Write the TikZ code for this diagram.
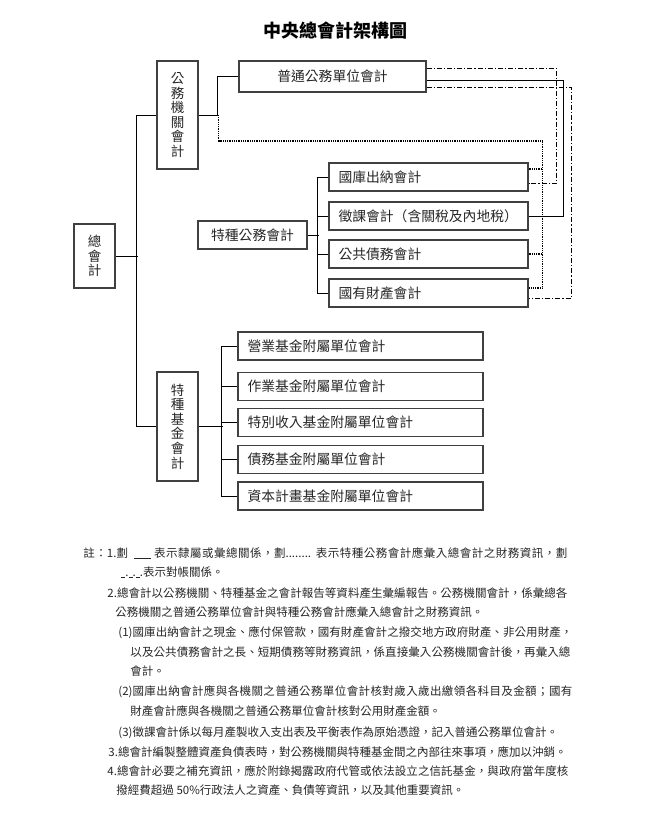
\documentclass[tikz,border=0pt]{standalone}
\usepackage{fontspec}
\setmainfont{Noto Sans CJK TC}
% stretchable glue between Han characters, for the full note lines
\newXeTeXintercharclass\hanclass
\count255="3000
\loop
	\XeTeXcharclass\count255=\hanclass
	\advance\count255 by 1
\ifnum\count255<"A000 \repeat
\count255="FF00
\loop
	\XeTeXcharclass\count255=\hanclass
	\advance\count255 by 1
\ifnum\count255<"FF60 \repeat
\XeTeXinterchartoks\hanclass\hanclass={\nobreak\hskip0pt plus 1.5pt\relax}
\XeTeXinterchartokenstate=1
\newcommand\jline[2]{\hbox to #1pt{#2}}
\newcommand\solidmark{\rule[-1.5pt]{17pt}{0.7pt}}
\newcommand\dashmark{\rule[-1.5pt]{4pt}{0.5pt}.\rule[-1.5pt]{4pt}{0.5pt}.\rule[-1.5pt]{4pt}{0.5pt}.}

\begin{document}
\begin{tikzpicture}[x=1pt, y=-1pt, line width=0.9pt]
	\tikzstyle{vbox} = [draw=black!75, line width=1.2pt, text=black!85, font=\fontsize{13.5}{14.6}\selectfont, align=center, minimum width=41, inner sep=0pt]
	\tikzstyle{hbox} = [draw=black!75, line width=1.2pt, text=black!85, font=\fontsize{13.8}{16}\selectfont, minimum height=28, inner sep=0pt]
	\tikzstyle{unit} = [hbox, align=left, inner xsep=9.5pt]
	\tikzstyle{feed} = [line width=1.2pt, dash pattern=on 0.9pt off 0.9pt]
	\tikzstyle{recon} = [line width=1pt, dash pattern=on 5pt off 2pt on 1.2pt off 2pt]
	\tikzstyle{note} = [anchor=west, inner sep=0pt, text=black!85, font=\fontsize{11.5}{14}\selectfont]

	\useasboundingbox (0,0) rectangle (656,828);

	\node[font=\fontsize{18}{20}\selectfont\bfseries] (title) at (335,31) {中央總會計架構圖};

	\node[vbox, minimum height=64] (zkj) at (94.5,256) {總\\會\\計};
	\node[vbox, minimum height=108] (gwjg) at (177.5,115) {公\\務\\機\\關\\會\\計};
	\node[vbox, minimum height=109] (tzjj) at (177.5,426.5) {特\\種\\基\\金\\會\\計};
	\node[hbox, minimum width=187, minimum height=31] (ptgw) at (332.5,76.5) {普通公務單位會計};
	\node[hbox, minimum width=109] (tzgw) at (252.5,235) {特種公務會計};

	\foreach \name/\y/\label in {gkcn/177/國庫出納會計, zk/216/{徵課會計（含關稅及內地稅）}, ggzw/254/公共債務會計, gycc/293/國有財產會計}
		\node[unit, text width=180] (\name) at (428.5,\y) {\label};

	\foreach \name/\y/\label in {yy/346/營業基金附屬單位會計, zy/386.5/作業基金附屬單位會計, tb/422.5/特別收入基金附屬單位會計, zw/459.5/債務基金附屬單位會計, zb/496/資本計畫基金附屬單位會計}
		\node[unit, text width=226] (\name) at (360.5,\y) {\label};

	% solid: tree
	\draw (gwjg.west) -- ++(-20,0) |- (tzjj.west);
	\draw (zkj.east) -- ++(22,0);
	\draw (ptgw.west) -- ++(-21,0) |- (gwjg.east);
	\draw (tzgw.east) -- ++(11,0);
	\draw (gkcn.west) -- ++(-11,0) |- (gycc.west);
	\foreach \name in {zk, ggzw}
		\draw (\name.west) -- ++(-11,0);
	\draw (tzjj.east) -- ++(24,0);
	\draw (yy.west) -- ++(-16,0) |- (zb.west);
	\foreach \name in {zy, tb, zw}
		\draw (\name.west) -- ++(-16,0);

	% dotted: feed into gwjg
	\draw[feed] (gwjg.east) ++(20,0) -- ++(0,26) -- ++(324,0) |- ([yshift=5pt]gycc.east);
	\draw[feed] ([yshift=8pt]gkcn.east) -- ++(14,0);
	\draw[feed] (ggzw.east) -- ++(14,0);

	% right side: recon + zk
	\draw[recon] ([yshift=8.5pt]ptgw.east) -- ++(130,0) |- ([yshift=-6pt]gkcn.east);
	\draw ([yshift=-3.5pt]ptgw.east) -- ++(137,0) |- (zk.east);
	\draw[recon] ([yshift=-10.5pt]ptgw.east) -- ++(145,0) |- ([yshift=-5pt]gycc.east);

	% notes
	\node[note] (n1) at (83,553) {\jline{484}{註：1.劃 \ \solidmark{} 表示隸屬或彙總關係，劃........ 表示特種公務會計應彙入總會計之財務資訊，劃}};
	\node[note] (n2) at (121,572) {\dashmark 表示對帳關係。};
	\node[note] (n3) at (107,593) {\jline{460}{2.總會計以公務機關、特種基金之會計報告等資料產生彙編報告。公務機關會計，係彙總各}};
	\node[note] (n4) at (115,612) {公務機關之普通公務單位會計與特種公務會計應彙入總會計之財務資訊。};
	\node[note] (n5) at (118,633) {\jline{454}{(1)國庫出納會計之現金、應付保管款，國有財產會計之撥交地方政府財產、非公用財產，}};
	\node[note] (n6) at (130,652) {\jline{440}{以及公共債務會計之長、短期債務等財務資訊，係直接彙入公務機關會計後，再彙入總}};
	\node[note] (n7) at (130,671) {會計。};
	\node[note] (n8) at (118,692) {\jline{454}{(2)國庫出納會計應與各機關之普通公務單位會計核對歲入歲出繳領各科目及金額；國有}};
	\node[note] (n9) at (130,711) {財產會計應與各機關之普通公務單位會計核對公用財產金額。};
	\node[note] (n10) at (118,733) {(3)徵課會計係以每月產製收入支出表及平衡表作為原始憑證，記入普通公務單位會計。};
	\node[note] (n11) at (108,752) {3.總會計編製整體資產負債表時，對公務機關與特種基金間之內部往來事項，應加以沖銷。};
	\node[note] (n12) at (107,771) {\jline{461}{4.總會計必要之補充資訊，應於附錄揭露政府代管或依法設立之信託基金，與政府當年度核}};
	\node[note] (n13) at (116,790) {撥經費超過 50\%行政法人之資產、負債等資訊，以及其他重要資訊。};
\end{tikzpicture}
\end{document}
